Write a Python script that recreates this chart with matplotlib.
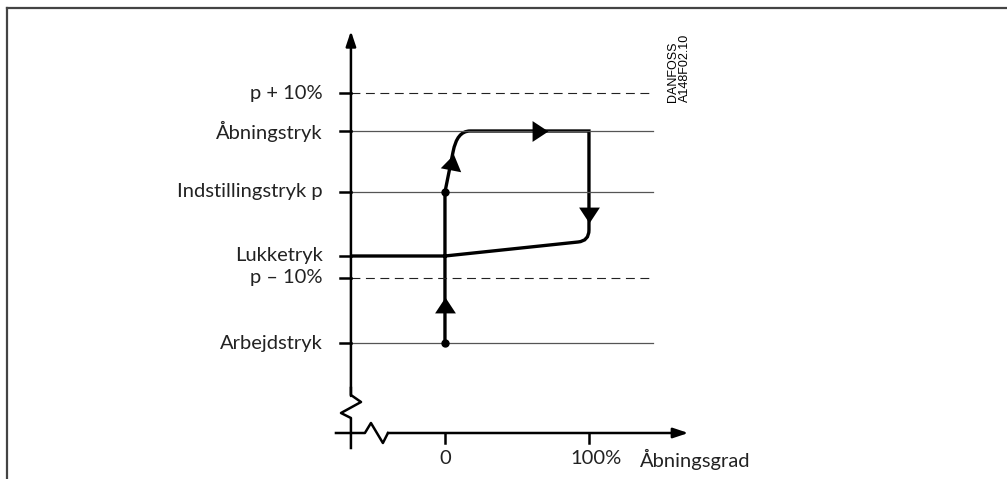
import matplotlib.pyplot as plt
from matplotlib.path import Path
from matplotlib.patches import PathPatch
from matplotlib.markers import MarkerStyle
from matplotlib.transforms import Affine2D
from matplotlib.lines import Line2D

# pressure levels (schematic units) and their labels
level_labels = ["p + 10%", "Åbningstryk", "Indstillingstryk p", "Lukketryk", "p – 10%", "Arbejdstryk"]
level_values = [340, 302, 241, 177, 155, 90]
level_dashed = [True, False, False, False, True, False]
level_thin_line = [True, True, True, False, True, True]

# opening degree axis
x_ticks = [0, 100]
x_tick_labels = ["0", "100%"]
x_title = "Åbningsgrad"

# hysteresis loop (opening %, pressure)
loop_x = [0, 0, 5.6, 8.3, 17.4, 100, 100, 100, 92.4, 0, -65.3]
loop_y = [90, 241, 281, 302, 302, 302, 203, 192, 191, 177, 177]
loop_codes = [Path.MOVETO, Path.LINETO, Path.LINETO, Path.CURVE3, Path.CURVE3,
              Path.LINETO, Path.LINETO, Path.CURVE3, Path.CURVE3, Path.LINETO, Path.LINETO]

# direction arrows on the loop
arrow_x = [0, 4.9, 66, 100]
arrow_y = [128, 271, 302, 218.5]
arrow_rot = [0, -11, -90, 180]

# points marked on the loop
dot_x = [0, 0]
dot_y = [90, 241]

axis_x = -65.3
line_end = 144.4
label_x = -84.7
font = "Lato"
fs = 14.5
txt_col = "#222222"

fig = plt.figure(figsize=(10.07, 4.79), dpi=100)
ax = fig.add_axes([0, 0, 1, 1])
ax.set_xlim(-309.0, 390.3)
ax.set_ylim(-46, 433)
ax.axis("off")

# frame (top and left edge only)
fig.add_artist(Line2D([7 / 1007, 1], [1 - 8 / 479, 1 - 8 / 479], color="#444444", lw=1.6))
fig.add_artist(Line2D([7 / 1007, 7 / 1007], [0, 1 - 8 / 479], color="#444444", lw=1.6))

# horizontal level lines, ticks and labels
for lab, y, dash, thin in zip(level_labels, level_values, level_dashed, level_thin_line):
    if dash:
        ax.plot([axis_x, line_end], [y, y], color="#222222", lw=0.8, dashes=(8, 5))
    elif thin:
        ax.plot([axis_x, line_end], [y, y], color="#555555", lw=0.9)
    ax.plot([axis_x - 7.6, axis_x], [y, y], color="black", lw=1.8)
    ax.text(label_x, y, lab, ha="right", va="center", fontsize=fs, family=font, color=txt_col)

# y axis with break
ax.annotate("", xy=(axis_x, 402), xytext=(axis_x, 37),
            arrowprops=dict(arrowstyle="-|>,head_length=0.9,head_width=0.3", color="black", lw=1.8,
                            shrinkA=0, shrinkB=0))
ax.plot([axis_x, axis_x, -58.3, -72.2, axis_x, axis_x], [45, 38, 31, 20, 15, -15], color="black", lw=1.8)

# x axis with break
ax.plot([-75.7, -55.6, -51.4, -43.1, -39.6], [0, 0, 10, -10, 0], color="black", lw=1.8)
ax.annotate("", xy=(169, 0), xytext=(-39.6, 0),
            arrowprops=dict(arrowstyle="-|>,head_length=0.9,head_width=0.3", color="black", lw=1.8,
                            shrinkA=0, shrinkB=0))
for xt in x_ticks:
    ax.plot([xt, xt], [0, -10], color="black", lw=1.8)
ax.text(x_ticks[0], -26, x_tick_labels[0], ha="center", va="center", fontsize=fs, family=font, color=txt_col)
ax.text(x_ticks[1] + 4.9, -26, x_tick_labels[1], ha="center", va="center", fontsize=fs, family=font, color=txt_col)
ax.text(135.4, -26, x_title, ha="left", va="center", fontsize=fs, family=font, color=txt_col)

# loop
loop = Path(list(zip(loop_x, loop_y)), loop_codes)
ax.add_patch(PathPatch(loop, facecolor="none", edgecolor="black", lw=2.4, capstyle="butt", joinstyle="miter"))

tri = [(0, 0.76), (-1, -0.76), (1, -0.76)]
for x, y, r in zip(arrow_x, arrow_y, arrow_rot):
    m = MarkerStyle(tri, transform=Affine2D().rotate_deg(r))
    ax.plot(x, y, marker=m, markersize=15, color="black", markeredgewidth=0)

ax.plot(dot_x, dot_y, "o", color="black", markersize=5)

ax.text(162.5, 331, "DANFOSS\nA148F02.10", rotation=90, ha="center", va="bottom",
        multialignment="left", fontsize=9, family="Liberation Sans", linespacing=1.0)

fig.savefig("out.png", dpi=100)
